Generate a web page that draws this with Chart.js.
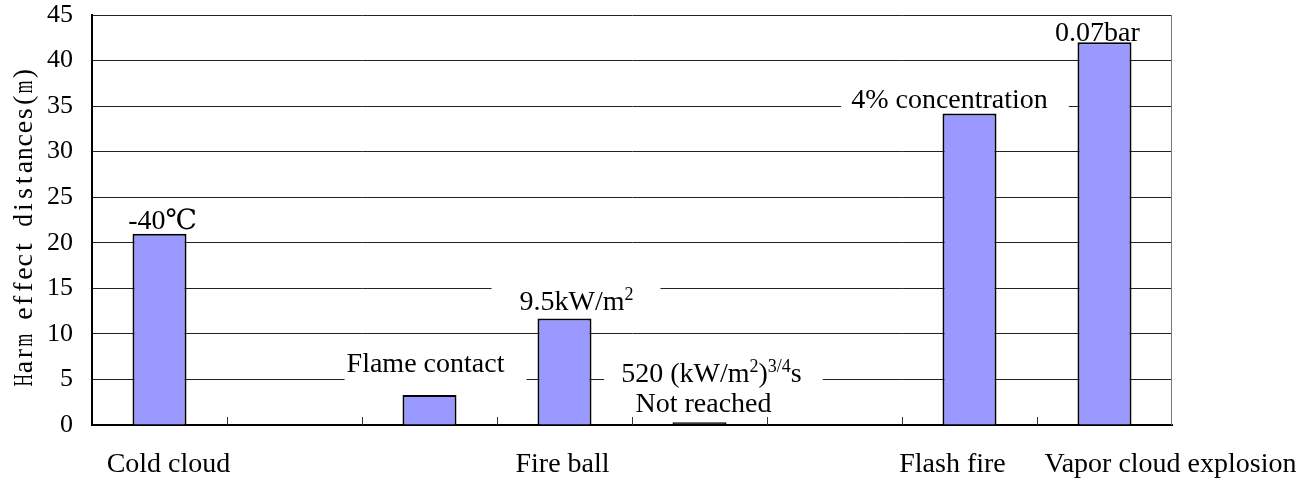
<!DOCTYPE html>
<html><head><meta charset="utf-8">
<script src="https://cdn.jsdelivr.net/npm/chart.js@4/dist/chart.umd.min.js"></script>
<style>html,body{margin:0;padding:0;background:#fff;overflow:hidden}#wrap{width:1313px;height:484px;position:relative}</style>
</head><body><div id="wrap"><canvas id="c" width="1313" height="484"></canvas></div>
<script>
// ---- data ----
const categories = ["Cold cloud", "", "", "Fire ball", "", "", "Flash fire", "Vapor cloud explosion"];
const distances = [21, null, 3.3, 11.7, 0.3, null, 34.2, 42];
const yTickValues = [0, 5, 10, 15, 20, 25, 30, 35, 40, 45];
const yTitle = "Harm effect distances(m)";
const annotationBars = [0, 2, 3, 4, 6, 7];
const annotationTexts = [
  ["-40℃"],
  ["Flame contact"],
  ["9.5kW/m^{2}"],
  ["520 (kW/m^{2})^{3/4}s", "Not reached"],
  ["4% concentration"],
  ["0.07bar"]
];

// ---- styles / layout (not data) ----
const SERIF = '"Liberation Serif", "Times New Roman", "DejaVu Serif", serif';
const MAIN_FONT = '28px ' + SERIF;
const SUP_FONT = '18px ' + SERIF;
const SUP_RISE = 10;
const xLabelShift = [9, 0, 0, -2, 0, 0, -17, 66];
const annoStyle = [
  {dx: [3], dy: -5},
  {dx: [-4], dy: -23, box: [2, 22, 4, 10]},
  {dx: [12], dy: -8, box: [28, 27, 6, 6]},
  {dx: [12, 4], dy: -40, lh: 30, box: [17, 21, 6, 3]},
  {dx: [-20], dy: -5, box: [10, 21, 4, 4]},
  {dx: [-7], dy: -1.5}
];

function parseRich(str) {
  const segs = [];
  const re = /\^\{([^}]*)\}/g;
  let last = 0, m;
  while ((m = re.exec(str)) !== null) {
    if (m.index > last) segs.push({t: str.slice(last, m.index), sup: false});
    segs.push({t: m[1], sup: true});
    last = re.lastIndex;
  }
  if (last < str.length) segs.push({t: str.slice(last), sup: false});
  return segs;
}
function measureRich(ctx, segs) {
  let w = 0;
  const ws = segs.map(s => { ctx.font = s.sup ? SUP_FONT : MAIN_FONT; const v = ctx.measureText(s.t).width; w += v; return v; });
  return {w, ws};
}
function drawRich(ctx, segs, m, cx, base) {
  let x = cx - m.w / 2;
  ctx.textAlign = 'left';
  ctx.textBaseline = 'alphabetic';
  segs.forEach((s, i) => {
    ctx.font = s.sup ? SUP_FONT : MAIN_FONT;
    ctx.fillText(s.t, x, s.sup ? base - SUP_RISE : base);
    x += m.ws[i];
  });
}

const decorPlugin = {
  id: 'decor',
  afterDatasetsDraw(chart) {
    const ctx = chart.ctx;
    const xs = chart.scales.x, ys = chart.scales.y;
    const ca = chart.chartArea;
    ctx.save();
    // right border of plot area
    ctx.strokeStyle = '#777';
    ctx.lineWidth = 1;
    ctx.beginPath();
    const rx = Math.round(ca.right) - 0.5;
    ctx.moveTo(rx, ca.top); ctx.lineTo(rx, ca.bottom);
    ctx.stroke();
    // inside tick marks at category boundaries
    const n = categories.length;
    const step = (xs.getPixelForValue(1) - xs.getPixelForValue(0));
    ctx.strokeStyle = '#333';
    ctx.beginPath();
    for (let i = 1; i < n; i++) {
      const bx = Math.round(xs.getPixelForValue(i) - step / 2) + 0.5;
      ctx.moveTo(bx, ca.bottom); ctx.lineTo(bx, ca.bottom - 8);
    }
    ctx.stroke();
    // annotations
    ctx.fillStyle = '#000';
    annotationBars.forEach((bi, k) => {
      const st = annoStyle[k];
      const cxBar = xs.getPixelForValue(bi);
      const yTop = ys.getPixelForValue(distances[bi]);
      const lines = annotationTexts[k].map(parseRich);
      const ms = lines.map(l => measureRich(ctx, l));
      const lh = st.lh || 30;
      const base0 = yTop + st.dy;
      const centers = lines.map((l, i) => cxBar + (st.dx[i] !== undefined ? st.dx[i] : st.dx[0]));
      if (st.box) {
        let L = Infinity, R = -Infinity;
        lines.forEach((l, i) => { L = Math.min(L, centers[i] - ms[i].w / 2); R = Math.max(R, centers[i] + ms[i].w / 2); });
        const T = base0 - 21 - st.box[2];
        const B = base0 + lh * (lines.length - 1) + st.box[3];
        ctx.fillStyle = '#fff';
        ctx.fillRect(L - st.box[0], T, (R - L) + st.box[0] + st.box[1], B - T);
        ctx.fillStyle = '#000';
      }
      lines.forEach((l, i) => drawRich(ctx, l, ms[i], centers[i], base0 + lh * i));
    });
    // category labels
    ctx.font = MAIN_FONT;
    ctx.textAlign = 'center';
    ctx.textBaseline = 'alphabetic';
    categories.forEach((c, i) => {
      if (!c) return;
      ctx.fillText(c, xs.getPixelForValue(i) + xLabelShift[i], ca.bottom + 47);
    });
    // y title, emulating a half-width monospaced CJK font
    ctx.translate(32, (ca.top + ca.bottom) / 2 + 7);
    ctx.rotate(-Math.PI / 2);
    const cell = 13.33;
    const total = cell * yTitle.length;
    ctx.font = '28px ' + SERIF;
    ctx.textAlign = 'center';
    for (let i = 0; i < yTitle.length; i++) {
      const ch = yTitle[i];
      const cxc = -total / 2 + (i + 0.5) * cell;
      const w = ctx.measureText(ch).width;
      const maxW = 12.6;
      ctx.save();
      ctx.translate(cxc, 0);
      if (w > maxW) ctx.scale(maxW / w, 1);
      ctx.fillText(ch, 0, 0);
      ctx.restore();
    }
    ctx.restore();
  }
};

new Chart(document.getElementById('c'), {
  type: 'bar',
  data: {
    labels: categories,
    datasets: [{
      data: distances,
      backgroundColor: (c) => (c.raw !== null && c.raw < 1 ? '#000' : '#9999FF'),
      borderColor: '#000',
      borderWidth: 2,
      borderSkipped: 'bottom',
      categoryPercentage: 1,
      barPercentage: 0.4
    }]
  },
  options: {
    responsive: false,
    devicePixelRatio: 1,
    animation: false,
    layout: {padding: {left: 0, right: 141, top: 15, bottom: 0}},
    plugins: {legend: {display: false}, tooltip: {enabled: false}, title: {display: false}},
    scales: {
      x: {
        offset: true,
        grid: {display: false, drawTicks: false},
        border: {display: true, color: '#000', width: 2},
        ticks: {display: false},
        afterFit(s) { s.height = 59; s.paddingLeft = 0; s.paddingRight = 0; }
      },
      y: {
        min: 0, max: 45,
        afterBuildTicks(s) { s.ticks = yTickValues.map(v => ({value: v})); },
        grid: {color: '#222', lineWidth: 1, drawTicks: false},
        border: {display: true, color: '#000', width: 2},
        ticks: {
          padding: 19,
          color: '#000',
          font: {family: SERIF, size: 26, lineHeight: 1}
        },
        afterFit(s) { s.width = 92; s.paddingTop = 0; s.paddingBottom = 0; }
      }
    }
  },
  plugins: [decorPlugin]
});
</script>
</body></html>
